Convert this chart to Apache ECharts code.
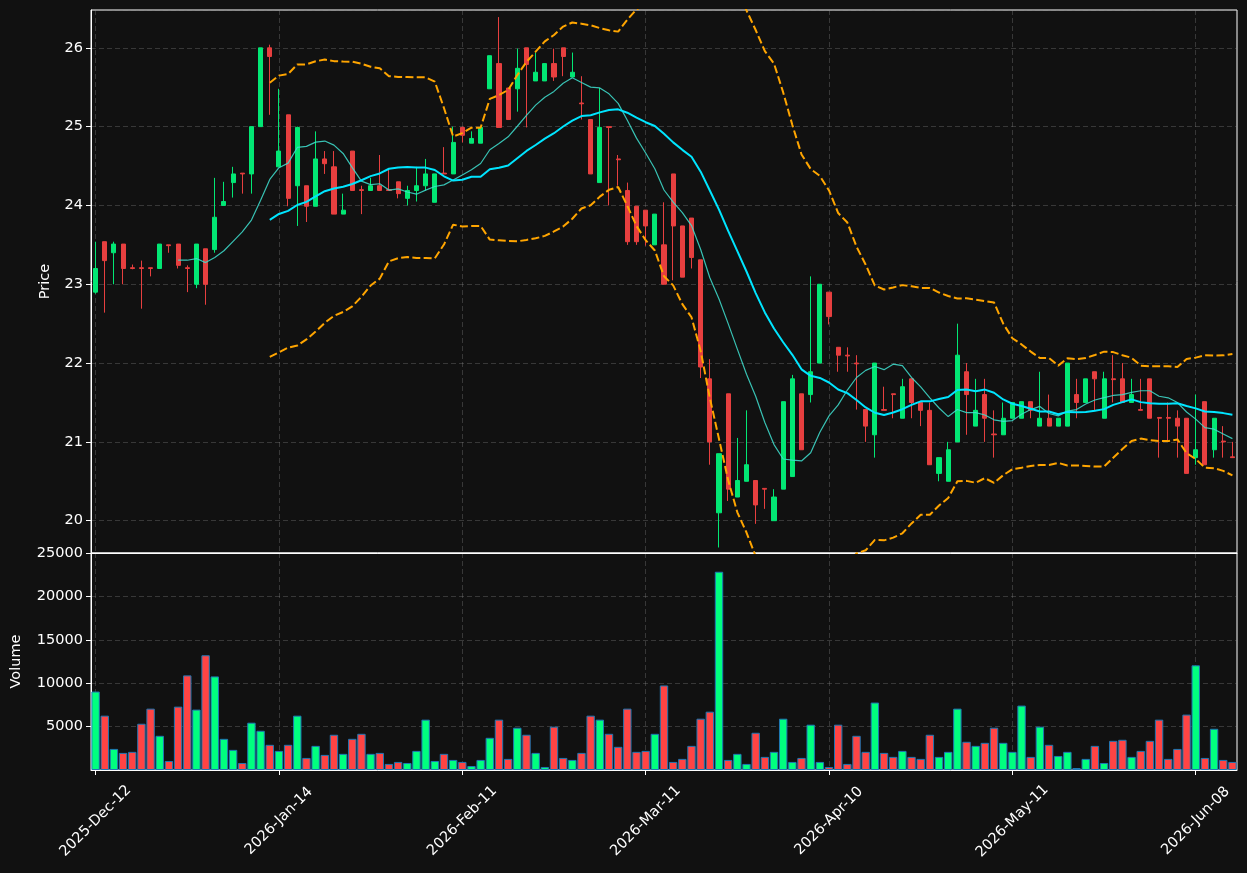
<!DOCTYPE html>
<html>
<head>
<meta charset="utf-8">
<script src="https://cdn.jsdelivr.net/npm/echarts@6/dist/echarts.min.js"></script>
<style>
html, body { margin: 0; padding: 0; background: #111111; }
#chart { width: 1247px; height: 873px; }
</style>
</head>
<body>
<div id="chart"></div>
<script>
// x tick labels (every 20th session)
const tickPos = [0, 20, 40, 60, 80, 100, 120];
const tickLabels = ['2025-Dec-12', '2026-Jan-14', '2026-Feb-11', '2026-Mar-11', '2026-Apr-10', '2026-May-11', '2026-Jun-08'];

// OHLC
const opens = [
  22.90, 23.54, 23.40, 23.51, 23.21, 23.21, 23.21, 23.20, 23.50, 23.51,
  23.21, 23.00, 23.45, 23.44, 24.00, 24.29, 24.41, 24.40, 25.00, 26.00,
  24.49, 25.15, 24.25, 24.25, 23.99, 24.59, 24.49, 23.89, 24.69, 24.20,
  24.19, 24.25, 24.20, 24.30, 24.09, 24.19, 24.25, 24.04, 24.41, 24.40,
  24.99, 24.79, 24.79, 25.48, 25.80, 25.49, 25.48, 26.00, 25.58, 25.58,
  25.80, 26.00, 25.63, 25.30, 25.09, 24.29, 25.00, 24.59, 24.19, 23.99,
  23.94, 23.50, 23.50, 24.40, 23.74, 23.84, 23.31, 21.80, 20.10, 21.61,
  20.30, 20.50, 20.51, 20.41, 20.00, 20.40, 20.56, 21.61, 21.60, 22.00,
  22.90, 22.20, 22.10, 22.00, 21.41, 21.09, 21.41, 21.61, 21.30, 21.80,
  21.50, 21.40, 20.60, 20.50, 21.00, 21.89, 21.20, 21.60, 21.10, 21.09,
  21.30, 21.30, 21.51, 21.20, 21.30, 21.20, 21.20, 21.60, 21.50, 21.89,
  21.30, 21.80, 21.80, 21.50, 21.41, 21.80, 21.31, 21.31, 21.30, 21.30,
  20.80, 21.51, 20.90, 21.01, 20.81
];
const highs = [
  23.54, 23.54, 23.54, 23.51, 23.25, 23.30, 23.21, 23.51, 23.50, 23.51,
  23.24, 23.51, 23.45, 24.35, 24.30, 24.49, 24.41, 25.00, 26.00, 26.04,
  25.48, 25.15, 25.00, 24.25, 24.94, 24.69, 24.69, 24.15, 24.69, 24.25,
  24.35, 24.64, 24.47, 24.30, 24.25, 24.49, 24.59, 24.40, 24.74, 25.00,
  25.00, 24.94, 24.99, 25.90, 26.39, 25.49, 25.99, 26.00, 25.94, 25.80,
  25.99, 26.00, 25.94, 25.64, 25.09, 25.49, 25.00, 24.64, 24.29, 23.99,
  23.94, 23.89, 24.04, 24.40, 23.74, 23.84, 23.31, 22.05, 20.85, 21.61,
  21.05, 21.40, 20.51, 20.41, 20.40, 21.51, 21.85, 21.61, 23.10, 23.00,
  22.90, 22.20, 22.20, 22.10, 21.41, 22.00, 21.70, 21.61, 21.80, 21.80,
  21.50, 21.50, 20.80, 21.00, 22.50, 22.00, 21.80, 21.80, 21.40, 21.50,
  21.50, 21.51, 21.51, 21.89, 21.60, 21.30, 22.00, 21.80, 21.80, 21.89,
  21.89, 22.10, 22.00, 21.80, 21.80, 21.80, 21.31, 21.50, 21.40, 21.30,
  21.60, 21.51, 21.30, 21.20, 21.00
];
const lows = [
  22.88, 22.64, 23.00, 23.00, 23.19, 22.69, 23.10, 23.20, 23.40, 23.20,
  22.90, 22.95, 22.74, 23.40, 24.00, 24.10, 24.15, 24.15, 25.00, 25.15,
  24.49, 23.99, 23.74, 23.79, 23.99, 24.40, 23.89, 23.89, 24.19, 23.89,
  24.19, 24.19, 24.19, 24.09, 24.00, 24.05, 24.19, 24.04, 24.40, 24.40,
  24.80, 24.79, 24.79, 25.48, 24.99, 25.09, 25.19, 24.99, 25.58, 25.58,
  25.58, 25.64, 25.63, 25.09, 24.40, 24.29, 24.00, 24.25, 23.50, 23.50,
  23.49, 23.50, 23.00, 23.05, 23.09, 23.20, 21.81, 20.71, 19.66, 20.25,
  20.30, 20.50, 19.96, 20.15, 20.00, 20.40, 20.56, 20.90, 21.50, 22.00,
  22.49, 21.89, 21.89, 21.41, 21.00, 20.80, 21.40, 21.30, 21.30, 21.30,
  21.20, 20.71, 20.50, 20.50, 21.00, 21.09, 21.20, 21.00, 20.80, 21.09,
  21.30, 21.30, 21.30, 21.20, 21.20, 21.20, 21.20, 21.30, 21.50, 21.40,
  21.30, 21.50, 21.50, 21.50, 21.40, 21.30, 20.80, 21.00, 20.80, 20.60,
  20.71, 20.71, 20.80, 20.80, 20.80
];
const closes = [
  23.20, 23.30, 23.51, 23.20, 23.20, 23.20, 23.20, 23.51, 23.49, 23.24,
  23.20, 23.51, 23.00, 23.85, 24.05, 24.40, 24.40, 25.00, 26.00, 25.89,
  24.69, 24.09, 24.99, 23.99, 24.59, 24.53, 23.89, 23.94, 24.19, 24.19,
  24.25, 24.19, 24.19, 24.15, 24.19, 24.25, 24.40, 24.40, 24.40, 24.80,
  24.89, 24.85, 24.99, 25.90, 24.99, 25.09, 25.74, 25.79, 25.69, 25.80,
  25.63, 25.89, 25.69, 25.29, 24.40, 24.99, 24.99, 24.58, 23.54, 23.54,
  23.74, 23.89, 23.00, 23.74, 23.09, 23.34, 21.95, 21.00, 20.85, 20.40,
  20.51, 20.71, 20.20, 20.40, 20.30, 21.51, 21.80, 20.90, 21.89, 23.00,
  22.59, 22.10, 22.09, 21.99, 21.20, 22.00, 21.40, 21.60, 21.70, 21.50,
  21.40, 20.71, 20.80, 20.90, 22.10, 21.60, 21.40, 21.30, 21.09, 21.30,
  21.50, 21.51, 21.40, 21.30, 21.20, 21.30, 22.00, 21.50, 21.80, 21.80,
  21.80, 21.79, 21.50, 21.60, 21.40, 21.30, 21.30, 21.30, 21.20, 20.60,
  20.90, 20.71, 21.30, 21.00, 20.80
];
const volumes = [
  9040, 6260, 2430, 1970, 2090, 5330, 7070, 3940, 1040, 7300,
  10900, 6960, 13220, 10780, 3590, 2320, 810, 5450, 4520, 2900,
  2200, 2900, 6260, 1390, 2780, 1740, 4060, 1860, 3590, 4170,
  1860, 1970, 700, 930, 810, 2200, 5800, 1040, 1860, 1160,
  930, 460, 1160, 3710, 5800, 1280, 4870, 4060, 1970, 350,
  4990, 1390, 1160, 1970, 6260, 5800, 4170, 2670, 7070, 2090,
  2200, 4170, 9740, 930, 1280, 2780, 5910, 6720, 22840, 1160,
  1860, 700, 4290, 1510, 2090, 5910, 930, 1390, 5220, 930,
  350, 5220, 700, 3940, 2090, 7770, 1970, 1510, 2200, 1510,
  1280, 4060, 1510, 2090, 7070, 3250, 2780, 3130, 4870, 3130,
  2090, 7420, 1510, 4990, 2900, 1620, 2090, 230, 1280, 2780,
  810, 3360, 3480, 1510, 2200, 3360, 5800, 1280, 2430, 6380,
  12060, 1390, 4750, 1160, 930
];

const UP = '#02e774';
const DOWN = '#e73f3f';
const VOL_UP = '#00ff7f';
const VOL_DOWN = '#ff4444';
const FONT = 'DejaVu Sans';

function rollingMean(src, n) {
  return src.map((_, i) => {
    if (i < n - 1) return '-';
    let s = 0;
    for (let k = i - n + 1; k <= i; k++) s += src[k];
    return s / n;
  });
}

function rollingBand(src, n, mult, sign) {
  return src.map((_, i) => {
    if (i < n - 1) return '-';
    let s = 0;
    for (let k = i - n + 1; k <= i; k++) s += src[k];
    const m = s / n;
    let v = 0;
    for (let k = i - n + 1; k <= i; k++) v += (src[k] - m) * (src[k] - m);
    return m + sign * mult * Math.sqrt(v / n);
  });
}

const categories = closes.map((_, i) => String(i));
const candleData = opens.map((o, i) => [o, closes[i], lows[i], highs[i]]);
const volumeData = volumes.map((v, i) => ({
  value: v,
  itemStyle: { color: closes[i] >= opens[i] ? VOL_UP : VOL_DOWN }
}));

const isTick = (idx) => tickPos.indexOf(idx) !== -1;
const gridLine = { show: true, lineStyle: { color: 'rgba(150,150,150,0.3)', type: [5, 3], width: 1 } };

const chart = echarts.init(document.getElementById('chart'), null, { renderer: 'canvas' });

chart.setOption({
  backgroundColor: '#111111',
  animation: false,
  textStyle: { fontFamily: FONT },
  grid: [
    { left: 91, right: 10, top: 10, height: 543, show: true, borderColor: '#ffffff', borderWidth: 1 },
    { left: 91, right: 10, top: 553, height: 217, show: true, borderColor: '#ffffff', borderWidth: 1 }
  ],
  xAxis: [
    {
      type: 'category', gridIndex: 0, data: categories, boundaryGap: true,
      axisLine: { show: true, lineStyle: { color: '#ffffff' } },
      axisTick: { show: false },
      axisLabel: { show: false },
      splitLine: Object.assign({ interval: isTick, alignWithLabel: true }, gridLine)
    },
    {
      type: 'category', gridIndex: 1, data: categories, boundaryGap: true,
      axisLine: { show: true, lineStyle: { color: '#ffffff' } },
      axisTick: { show: true, interval: isTick, alignWithLabel: true, length: 5, lineStyle: { color: '#ffffff' } },
      axisLabel: {
        interval: isTick,
        formatter: (v) => tickLabels[tickPos.indexOf(Number(v))] || '',
        rotate: 45, align: 'center', verticalAlign: 'middle', margin: 51,
        color: '#ffffff', fontSize: 14.5, fontFamily: FONT
      },
      splitLine: Object.assign({ interval: isTick, alignWithLabel: true }, gridLine)
    }
  ],
  yAxis: [
    {
      type: 'value', gridIndex: 0, min: 19.59, max: 26.48, splitNumber: 5,
      name: 'Price', nameLocation: 'middle', nameGap: 38,
      nameTextStyle: { color: '#ffffff', fontSize: 14.5, fontFamily: FONT },
      axisLine: { show: true, lineStyle: { color: '#ffffff' } },
      axisTick: { show: true, length: 5, lineStyle: { color: '#ffffff' } },
      axisLabel: { color: '#ffffff', fontSize: 14.5, fontFamily: FONT, margin: 8, showMinLabel: false, showMaxLabel: false },
      splitLine: gridLine
    },
    {
      type: 'value', gridIndex: 1, min: 0, max: 25000, interval: 5000,
      name: 'Volume', nameLocation: 'middle', nameGap: 67,
      nameTextStyle: { color: '#ffffff', fontSize: 14.5, fontFamily: FONT },
      axisLine: { show: true, lineStyle: { color: '#ffffff' } },
      axisTick: { show: true, length: 5, lineStyle: { color: '#ffffff' } },
      axisLabel: { color: '#ffffff', fontSize: 14.5, fontFamily: FONT, margin: 8, showMinLabel: false, formatter: (v) => String(v) },
      splitLine: gridLine
    }
  ],
  series: [
    {
      name: 'OHLC', type: 'candlestick', xAxisIndex: 0, yAxisIndex: 0,
      data: candleData, barWidth: 4.6,
      itemStyle: { color: UP, color0: DOWN, borderColor: UP, borderColor0: DOWN, borderWidth: 1 }
    },
    {
      name: 'MA10', type: 'line', xAxisIndex: 0, yAxisIndex: 0,
      data: rollingMean(closes, 10), showSymbol: false, symbol: 'none',
      lineStyle: { color: '#40e0d0', width: 1.2, opacity: 0.85 }
    },
    {
      name: 'MA20', type: 'line', xAxisIndex: 0, yAxisIndex: 0,
      data: rollingMean(closes, 20), showSymbol: false, symbol: 'none',
      lineStyle: { color: '#00e5ff', width: 2 }
    },
    {
      name: 'BB upper', type: 'line', xAxisIndex: 0, yAxisIndex: 0,
      data: rollingBand(closes, 20, 2, 1), showSymbol: false, symbol: 'none',
      lineStyle: { color: '#ffa500', width: 2, type: [8, 3.3] }
    },
    {
      name: 'BB lower', type: 'line', xAxisIndex: 0, yAxisIndex: 0,
      data: rollingBand(closes, 20, 2, -1), showSymbol: false, symbol: 'none',
      lineStyle: { color: '#ffa500', width: 2, type: [8, 3.3] }
    },
    {
      name: 'Volume', type: 'bar', xAxisIndex: 1, yAxisIndex: 1,
      data: volumeData, barWidth: 8.4,
      itemStyle: { borderColor: '#1f77b4', borderWidth: 1 }
    }
  ]
});
</script>
</body>
</html>
